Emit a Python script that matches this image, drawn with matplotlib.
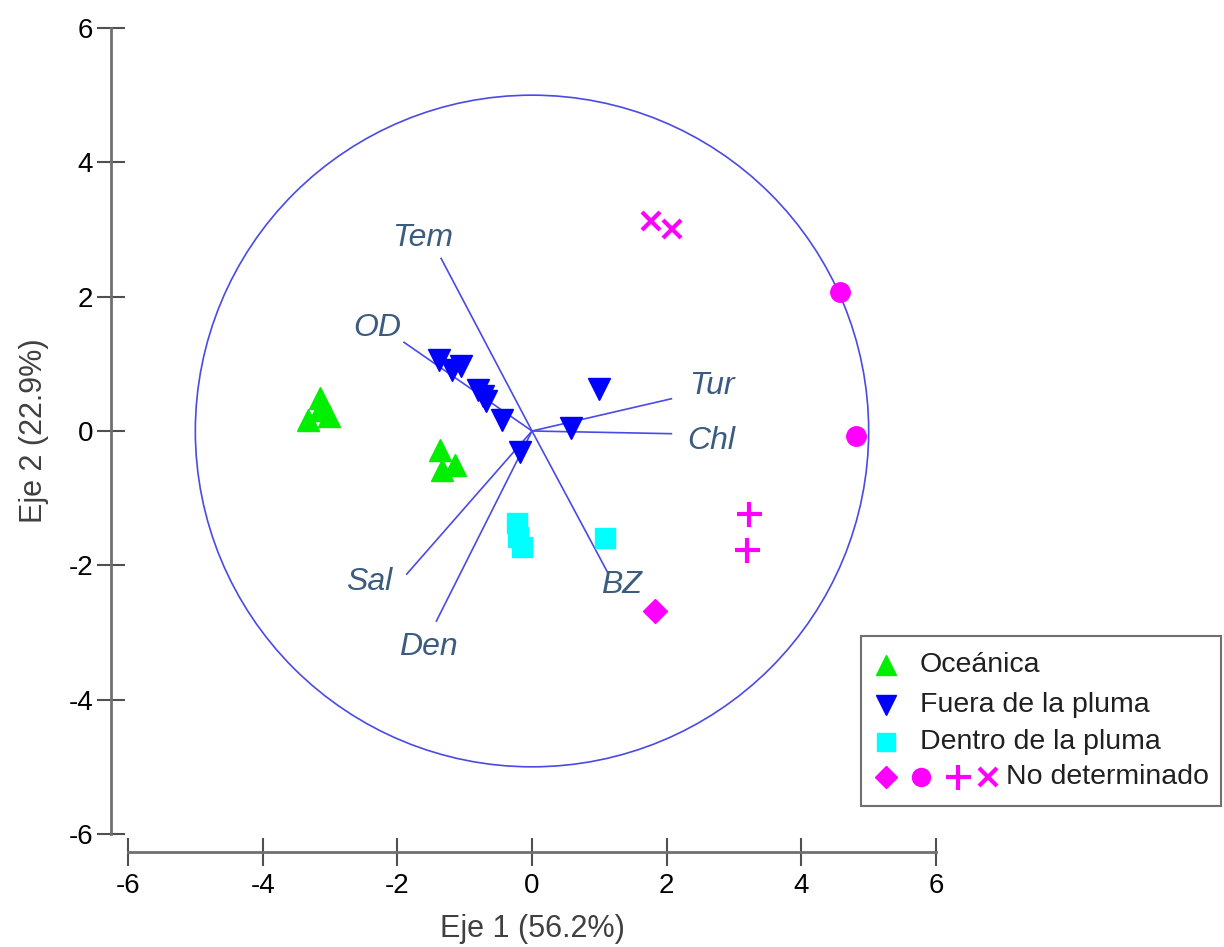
import matplotlib.pyplot as plt
from matplotlib.patches import Circle, Rectangle
from matplotlib.lines import Line2D

plt.rcParams['font.family'] = ['Liberation Sans', 'DejaVu Sans']

# Puntuaciones de las estaciones (Eje 1, Eje 2)
oceanica_x = [-3.15, -3.15, -3.33, -3.02, -1.37, -1.34, -1.15]
oceanica_y = [0.49, 0.31, 0.16, 0.22, -0.28, -0.58, -0.51]

fuera_x = [-1.38, -1.19, -1.06, -0.80, -0.73, -0.68, -0.45, -0.18, 0.58, 1.00]
fuera_y = [1.06, 0.91, 0.97, 0.61, 0.52, 0.45, 0.16, -0.31, 0.04, 0.63]

dentro_x = [-0.22, -0.21, -0.15, 1.09]
dentro_y = [-1.37, -1.58, -1.73, -1.59]

nd_diamante_x, nd_diamante_y = [1.82], [-2.68]
nd_circulo_x, nd_circulo_y = [4.58, 4.81], [2.07, -0.07]
nd_cruz_x, nd_cruz_y = [3.23, 3.20], [-1.24, -1.77]
nd_equis_x, nd_equis_y = [1.77, 2.08], [3.13, 3.01]

# Vectores de las variables
variables = ['Tem', 'OD', 'Tur', 'Chl', 'Sal', 'Den', 'BZ']
var_x = [-1.35, -1.90, 2.07, 2.07, -1.86, -1.42, 1.12]
var_y = [2.57, 1.32, 0.48, -0.04, -2.13, -2.83, -2.10]

radio = 5.0
ticks = [-6, -4, -2, 0, 2, 4, 6]
etiqueta_x = 'Eje 1 (56.2%)'
etiqueta_y = 'Eje 2 (22.9%)'

W, H = 1224, 947
fig = plt.figure(figsize=(W / 100, H / 100), dpi=100)
ax = fig.add_axes([128 / W, 1 - 834 / H, 808 / W, 806 / H])
ax.set_xlim(-6, 6)
ax.set_ylim(-6, 6)

linea = '#4a4ae6'
ax.add_patch(Circle((0, 0), radio, fill=False, color=linea, lw=1.2))

# desplazamiento de las etiquetas (puntos)
offsets = {'Tem': (-13, 15), 'OD': (-19, 10), 'Tur': (29, 9), 'Chl': (29, -5),
           'Sal': (-27, -6), 'Den': (-6, -19), 'BZ': (10, -9)}
for nom, vx, vy in zip(variables, var_x, var_y):
    ax.plot([0, vx], [0, vy], color=linea, lw=1.2, zorder=2)
    ax.annotate(nom, (vx, vy), xytext=offsets[nom], textcoords='offset points',
                ha='center', va='center', fontsize=23, style='italic', color='#3b5b7f')

ax.plot(oceanica_x, oceanica_y, '^', color='#00ee00', ms=16, ls='none', zorder=3)
ax.plot(fuera_x, fuera_y, 'v', color='#0000ff', ms=16, ls='none', zorder=3)
ax.plot(dentro_x, dentro_y, 's', color='#00ffff', ms=15, ls='none', zorder=3)
ax.plot(nd_diamante_x, nd_diamante_y, 'D', color='#ff00ff', ms=12, ls='none', zorder=3)
ax.plot(nd_circulo_x, nd_circulo_y, 'o', color='#ff00ff', ms=14, ls='none', zorder=3)
ax.plot(nd_cruz_x, nd_cruz_y, '+', color='#ff00ff', ms=18, mew=3, ls='none', zorder=3)
ax.plot(nd_equis_x, nd_equis_y, 'x', color='#ff00ff', ms=13, mew=3, ls='none', zorder=3)

# ejes separados al estilo del original
for s in ['top', 'right']:
    ax.spines[s].set_visible(False)
ax.spines['left'].set_position(('outward', 12))
ax.spines['bottom'].set_position(('outward', 13))
for s in ['left', 'bottom']:
    ax.spines[s].set_color('#707070')
    ax.spines[s].set_linewidth(2)
ax.set_xticks(ticks)
ax.set_yticks(ticks)
ax.set_xticklabels([str(t) for t in ticks])
ax.set_yticklabels([str(t) for t in ticks])
ax.tick_params(direction='inout', length=20, width=1.5, color='#505050',
               labelsize=20, pad=3)
ax.tick_params(axis='x', pad=5)
ax.set_xlabel(etiqueta_x, fontsize=22, color='#404040', labelpad=11)
ax.set_ylabel(etiqueta_y, fontsize=22, color='#404040', labelpad=14)

# leyenda dibujada a mano (la ultima fila lleva cuatro simbolos)
def fx(px):
    return px / W

def fy(py):
    return 1 - py / H

fig.patches.append(Rectangle((fx(861), fy(806)), fx(1221) - fx(861), fy(636) - fy(806),
                             transform=fig.transFigure, fill=False, ec='#707070', lw=1.5))
filas = [
    ([('^', '#00ee00', 14, 1)], 'Oceánica', 665),
    ([('v', '#0000ff', 14, 1)], 'Fuera de la pluma', 705),
    ([('s', '#00ffff', 13, 1)], 'Dentro de la pluma', 742),
    ([('D', '#ff00ff', 11, 1), ('o', '#ff00ff', 13, 1), ('+', '#ff00ff', 18, 3),
      ('x', '#ff00ff', 13, 3)], 'No determinado', 777),
]
for simbolos, texto, py in filas:
    xs = [886, 921, 958, 988]
    for (m, c, ms, mew), px in zip(simbolos, xs):
        fig.lines.append(Line2D([fx(px)], [fy(py)], marker=m, color=c, ms=ms, mew=mew,
                                ls='none', transform=fig.transFigure))
    tx = 920 if len(simbolos) == 1 else 1006
    fig.text(fx(tx), fy(py), texto, fontsize=20.5, va='center', ha='left', color='#202020')

fig.savefig('out.png', dpi=100)
